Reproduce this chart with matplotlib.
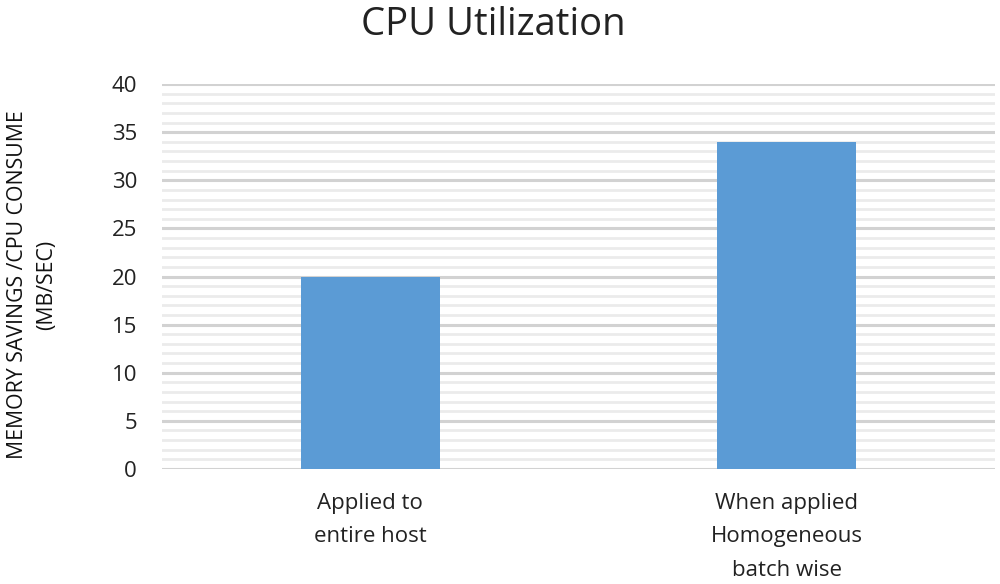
import numpy as np
import matplotlib
matplotlib.use('Agg')
import matplotlib.pyplot as plt
from matplotlib.ticker import MultipleLocator

plt.rcParams['font.family'] = ['Open Sans', 'DejaVu Sans']

categories = ['Applied to\nentire host', 'When applied\nHomogeneous\nbatch wise']
values = [20, 34]
y_ticks = [0, 5, 10, 15, 20, 25, 30, 35, 40]

fig = plt.figure(figsize=(10, 5.84), dpi=100)
ax = fig.add_axes([0.162, 0.197, 0.833, 0.659])

x = np.arange(len(categories))
ax.bar(x, values, width=0.333, color='#5b9bd5', zorder=3)

ax.set_xlim(-0.5, len(categories) - 0.5)
ax.set_ylim(0, 40)
ax.set_yticks(y_ticks)
ax.yaxis.set_minor_locator(MultipleLocator(1))
ax.set_xticks(x)
ax.set_xticklabels(categories, fontsize=16, color='#222222', linespacing=1.8, va='top')

ax.grid(axis='y', which='major', color='#d2d2d2', linewidth=2.2, zorder=0)
ax.grid(axis='y', which='minor', color='#ebebeb', linewidth=2.0, zorder=0)
for s in ax.spines.values():
    s.set_visible(False)
ax.tick_params(axis='both', which='both', length=0)
ax.tick_params(axis='y', labelsize=16, labelcolor='#222222', pad=18)
ax.tick_params(axis='x', pad=17)

fig.text(0.032, 0.512, 'MEMORY SAVINGS /CPU CONSUME\n(MB/SEC)', fontsize=15.3, color='#111111',
         rotation=90, ha='center', va='center', multialignment='center', linespacing=1.52)
fig.text(0.493, 0.99, 'CPU Utilization', fontsize=27.5, color='#222222', ha='center', va='top')

fig.savefig('out.png', dpi=100)
